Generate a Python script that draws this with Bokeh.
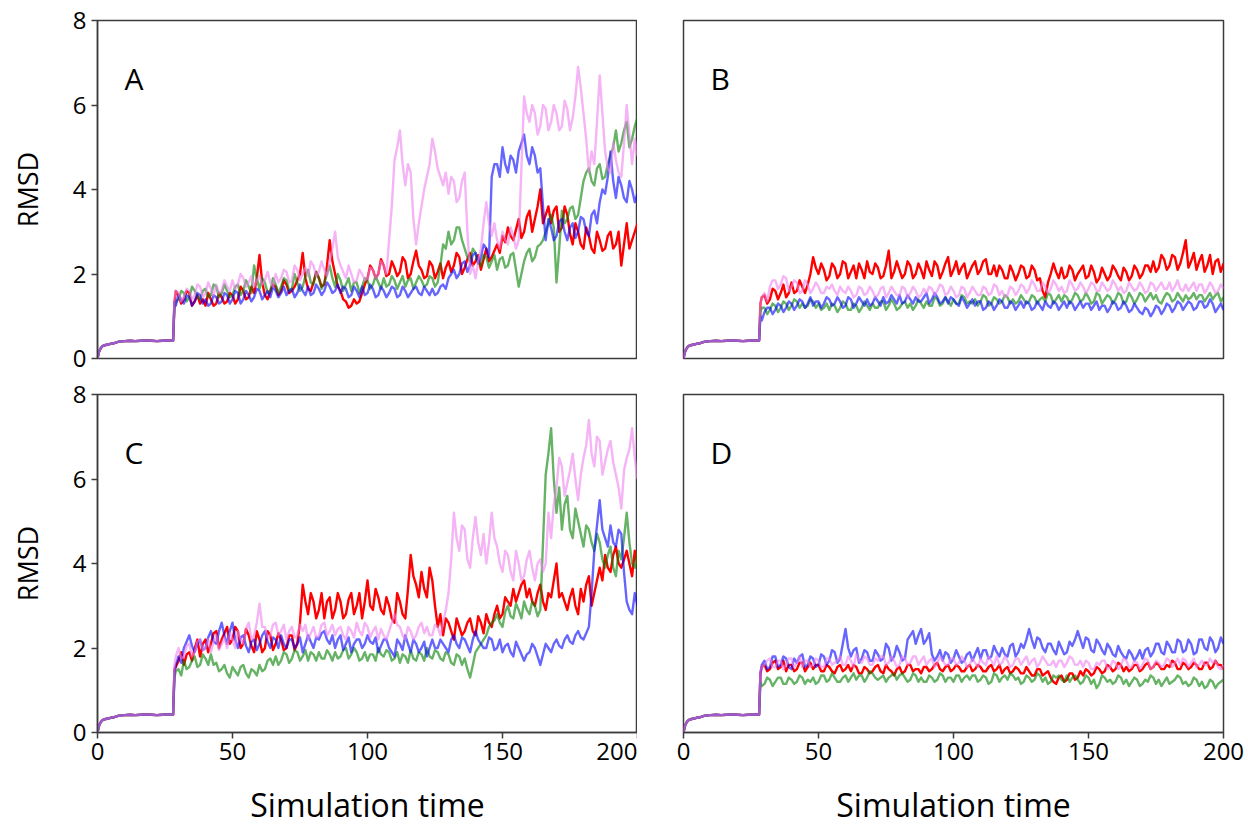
from bokeh.plotting import figure
from bokeh.layouts import column, row
from bokeh.models import Range1d, FixedTicker, Label
from bokeh.embed import file_html
from bokeh.resources import INLINE

FONT = "Open Sans"

X_TICKS = [0, 50, 100, 150, 200]
Y_TICKS = [0, 2, 4, 6, 8]
PANEL_LETTERS = ["A", "B", "C", "D"]

# equilibration segment (shared by all runs)
T_INIT = [0, 0.5, 1, 1.5, 2, 3, 4, 5, 6, 7, 8, 10, 12, 14, 16, 18, 20, 22, 24, 26, 28]
INIT = [0.0, 0.15, 0.22, 0.27, 0.3, 0.32, 0.33, 0.35, 0.36, 0.38, 0.4, 0.41, 0.42, 0.41, 0.42,
        0.43, 0.42, 0.41, 0.42, 0.43, 0.42]
# production segment sampling times: even grid and odd grid
T_MAIN = [28.5] + list(range(30, 201, 2))
T_ODD = list(range(29, 200, 2))

# ---------------- Panel A ----------------
A_RED = [1.3, 1.5, 1.4, 1.55, 1.35, 1.3, 1.25, 1.4, 1.3, 1.45,
         1.35, 1.5, 1.4, 1.6, 1.45, 1.55, 2.45, 1.5, 1.6, 1.7,
         1.6, 1.75, 1.6, 1.85, 2.5, 1.65, 1.8, 1.9, 1.75, 2.8,
         2.0, 1.6, 1.35, 1.25, 1.3, 1.55, 1.9, 2.1, 2.0, 2.2,
         2.0, 2.15, 2.05, 2.3, 2.0, 2.55, 2.1, 1.95, 2.2, 2.05,
         1.9, 2.3, 2.2, 2.4, 2.15, 2.5, 2.3, 2.1, 2.6, 2.4,
         2.7, 2.9, 3.1, 2.8, 3.3, 3.0, 3.5, 3.3, 4.0, 3.4,
         3.2, 3.6, 3.1, 3.4, 2.7, 3.0, 2.6, 2.9, 2.5, 2.8,
         2.6, 3.0, 2.7, 2.2, 3.2, 2.8, 3.2]
A_RED_ODD = [1.6, 1.3, 1.6, 1.25, 1.5, 1.4, 1.55, 1.25, 1.55, 1.3,
             1.55, 1.3, 1.7, 1.4, 1.7, 1.9, 1.8, 1.4, 1.75, 1.5,
             1.85, 1.55, 1.7, 2.0, 1.9, 1.6, 2.05, 1.7, 2.2, 2.3,
             1.7, 1.4, 1.2, 1.4, 1.35, 1.75, 2.2, 1.9, 2.35, 1.95,
             2.3, 1.95, 2.4, 1.9, 2.3, 2.2, 1.9, 2.3, 1.9, 2.25,
             2.15, 2.05, 2.5, 2.0, 2.35, 2.2, 2.45, 2.35, 2.3, 2.55,
             2.5, 2.75, 2.9, 3.05, 2.85, 3.35, 3.0, 3.6, 3.2, 3.6,
             3.5, 3.0, 3.6, 2.95, 3.2, 2.7, 3.1, 2.6, 3.0, 2.55,
             2.9, 2.6, 3.0, 2.7, 2.6, 3.0]
A_GREEN = [1.2, 1.4, 1.55, 1.45, 1.6, 1.4, 1.65, 1.5, 1.7, 1.55,
           1.6, 1.5, 1.75, 1.6, 1.7, 2.2, 1.65, 1.8, 1.6, 1.75,
           1.7, 1.85, 1.65, 1.8, 1.7, 2.1, 1.75, 1.9, 1.8, 2.2,
           1.7, 1.85, 1.75, 1.6, 1.8, 1.7, 1.85, 1.75, 1.8, 1.9,
           1.75, 1.85, 1.8, 1.7, 1.9, 1.8, 1.85, 1.75, 1.9, 1.8,
           2.7, 3.0, 2.8, 3.1, 2.6, 2.3, 2.5, 2.2, 2.4, 2.3,
           2.1, 2.4, 2.2, 2.5, 1.7, 2.3, 2.6, 2.4, 2.7, 3.0,
           3.4, 1.8, 3.5, 3.3, 3.6, 3.4, 4.2, 4.5, 4.1, 4.6,
           4.3, 4.8, 5.4, 5.1, 5.6, 5.2, 5.7]
A_GREEN_ODD = [1.35, 1.6, 1.35, 1.7, 1.45, 1.6, 1.45, 1.75, 1.45, 1.75,
               1.45, 1.7, 1.5, 1.85, 1.55, 1.9, 1.9, 1.55, 1.9, 1.55,
               1.9, 1.6, 2.0, 1.6, 1.95, 1.8, 2.05, 1.65, 2.0, 1.9,
               2.0, 1.6, 1.9, 1.8, 1.55, 1.9, 1.65, 1.95, 1.65, 1.7,
               1.95, 1.65, 1.95, 1.85, 1.65, 1.95, 1.7, 1.95, 1.7, 2.2,
               2.6, 2.7, 3.1, 2.8, 2.4, 2.6, 2.25, 2.45, 2.15, 2.45,
               2.35, 2.15, 2.45, 2.1, 2.0, 2.5, 2.3, 2.65, 2.8, 3.2,
               3.1, 2.6, 3.2, 3.55, 3.3, 3.8, 4.4, 4.2, 4.5, 4.25,
               4.6, 5.0, 4.9, 5.4, 5.0, 5.5]
A_BLUE = [1.35, 1.5, 1.3, 1.45, 1.35, 1.5, 1.4, 1.3, 1.45, 1.35,
          1.5, 1.4, 1.55, 1.4, 1.5, 1.45, 1.6, 1.5, 1.45, 1.6,
          1.55, 1.5, 1.65, 1.55, 1.6, 1.7, 1.55, 1.65, 1.6, 1.7,
          1.6, 1.55, 1.65, 1.5, 1.6, 1.7, 1.55, 1.65, 1.5, 1.6,
          1.55, 1.65, 1.5, 1.6, 1.55, 1.7, 1.5, 1.6, 1.65, 1.55,
          1.75, 1.9, 2.1, 2.0, 2.3, 2.2, 2.5, 2.4, 2.6, 4.3,
          4.6, 5.0, 4.4, 4.7, 4.9, 5.3, 4.6, 4.8, 4.5, 2.8,
          3.1, 2.9, 3.3, 2.8, 3.2, 3.0, 3.3, 2.9, 3.5, 3.7,
          3.9, 4.9, 3.8, 4.1, 3.7, 4.0, 3.9]
A_BLUE_ODD = [1.25, 1.4, 1.5, 1.25, 1.55, 1.3, 1.25, 1.5, 1.3, 1.55,
              1.3, 1.6, 1.3, 1.6, 1.35, 1.65, 1.4, 1.6, 1.7, 1.45,
              1.7, 1.6, 1.45, 1.75, 1.5, 1.5, 1.75, 1.5, 1.8, 1.55,
              1.75, 1.7, 1.45, 1.7, 1.45, 1.5, 1.75, 1.45, 1.7, 1.45,
              1.7, 1.45, 1.7, 1.45, 1.65, 1.55, 1.7, 1.5, 1.5, 1.7,
              1.65, 2.0, 1.9, 2.25, 2.05, 2.45, 2.25, 2.7, 2.4, 4.6,
              4.3, 4.6, 4.8, 4.4, 5.1, 4.8, 5.0, 4.4, 3.6, 3.3,
              2.8, 3.25, 3.0, 3.1, 2.85, 3.35, 3.0, 3.4, 3.2, 4.0,
              4.3, 4.2, 4.3, 3.8, 4.2, 3.7]
A_VIOLET = [1.4, 1.55, 1.45, 1.6, 1.5, 1.7, 1.55, 1.65, 1.75, 1.6,
            1.7, 1.85, 1.75, 1.9, 1.8, 1.7, 1.95, 1.85, 1.8, 2.0,
            1.9, 2.05, 1.85, 2.1, 2.0, 1.95, 2.2, 2.05, 2.1, 2.3,
            3.0, 2.2, 1.9, 2.0, 1.85, 2.0, 1.9, 2.1, 2.0, 2.2,
            2.8, 4.7, 5.4, 4.1, 4.4, 2.7, 3.6, 4.3, 5.2, 4.5,
            4.1, 3.9, 4.2, 3.8, 4.4, 2.0, 1.9, 2.6, 3.7, 2.9,
            2.8, 3.0, 2.7, 2.9, 2.8, 6.2, 5.6, 5.8, 5.5, 5.9,
            5.6, 5.8, 5.5, 5.9, 5.7, 6.9, 5.8, 4.4, 4.6, 6.7,
            4.9, 4.4, 4.7, 4.3, 6.0, 4.6, 4.8]
A_VIOLET_ODD = [1.6, 1.35, 1.65, 1.4, 1.75, 1.45, 1.8, 1.5, 1.55, 1.85,
                1.6, 1.65, 2.0, 1.7, 1.95, 1.85, 1.75, 2.05, 1.7, 1.8,
                2.1, 1.8, 2.2, 1.85, 2.15, 2.3, 1.95, 2.3, 1.95, 2.6,
                2.4, 2.05, 2.2, 1.8, 2.1, 1.85, 2.15, 1.9, 2.3, 2.0,
                3.6, 5.0, 4.6, 4.6, 3.3, 3.2, 4.0, 4.6, 4.9, 4.3,
                4.4, 4.3, 3.7, 4.2, 3.0, 2.2, 2.3, 3.2, 3.2, 3.2,
                2.6, 2.8, 3.1, 2.6, 4.5, 5.8, 6.0, 5.3, 6.0, 5.4,
                6.0, 5.4, 6.1, 5.4, 6.2, 6.4, 5.2, 4.9, 5.6, 5.8,
                4.5, 5.1, 4.4, 5.1, 5.3, 5.2]

# ---------------- Panel B ----------------
B_RED = [1.3, 1.5, 1.4, 1.6, 1.55, 1.45, 1.8, 1.6, 1.7, 1.75,
         2.4, 2.0, 2.1, 1.95, 2.15, 2.0, 2.25, 2.05, 1.9, 2.1,
         2.3, 2.0, 2.15, 1.95, 2.55, 2.05, 2.1, 2.0, 2.2, 2.0,
         2.1, 2.3, 1.95, 2.2, 2.05, 2.4, 2.1, 2.0, 2.25, 2.05,
         2.3, 2.1, 2.35, 2.0, 1.95, 2.1, 1.9, 2.05, 2.0, 2.15,
         1.95, 2.1, 1.9, 1.45, 2.0, 2.05, 2.15, 1.95, 2.1, 2.0,
         2.2, 1.95, 2.05, 1.9, 2.0, 1.95, 2.1, 1.85, 2.05, 1.95,
         2.1, 2.0, 2.2, 2.3, 2.15, 2.35, 2.2, 2.4, 2.25, 2.8,
         2.3, 2.1, 2.45, 2.2, 2.0, 2.35, 2.25]
B_RED_ODD = [1.45, 1.3, 1.65, 1.4, 1.75, 1.55, 1.55, 1.85, 1.55, 2.0,
             2.15, 2.25, 1.85, 2.25, 1.9, 2.3, 1.9, 2.2, 2.25, 1.9,
             2.05, 2.25, 1.9, 2.2, 1.9, 2.3, 1.9, 2.3, 1.9, 2.25,
             1.9, 2.1, 2.3, 1.9, 2.25, 1.95, 2.3, 2.15, 1.9, 2.2,
             2.0, 2.3, 2.0, 2.2, 2.2, 1.9, 2.2, 1.85, 2.2, 1.9,
             2.2, 1.85, 1.6, 1.8, 2.25, 1.9, 1.9, 2.2, 1.85, 2.1,
             1.9, 2.2, 1.8, 2.15, 1.85, 2.2, 1.95, 2.15, 1.85, 2.2,
             1.9, 2.2, 2.05, 2.05, 2.45, 2.1, 2.45, 2.1, 2.5, 2.15,
             2.5, 2.3, 2.05, 2.45, 2.3, 2.05]
B_GREEN = [1.1, 1.2, 1.15, 1.25, 1.2, 1.3, 1.25, 1.35, 1.3, 1.25,
           1.35, 1.3, 1.2, 1.15, 1.25, 1.2, 1.3, 1.15, 1.25, 1.2,
           1.25, 1.3, 1.2, 1.35, 1.25, 1.3, 1.2, 1.35, 1.3, 1.25,
           1.3, 1.35, 1.25, 1.4, 1.3, 1.35, 1.4, 1.3, 1.45, 1.35,
           1.4, 1.35, 1.45, 1.3, 1.4, 1.35, 1.45, 1.4, 1.35, 1.4,
           1.35, 1.45, 1.4, 1.35, 1.5, 1.4, 1.35, 1.45, 1.4, 1.5,
           1.4, 1.45, 1.35, 1.5, 1.4, 1.45, 1.4, 1.5, 1.35, 1.45,
           1.4, 1.5, 1.45, 1.4, 1.35, 1.45, 1.5, 1.4, 1.45, 1.5,
           1.45, 1.4, 1.5, 1.45, 1.4, 1.55, 1.45]
B_GREEN_ODD = [1.2, 1.05, 1.3, 1.1, 1.35, 1.15, 1.4, 1.2, 1.2, 1.4,
               1.2, 1.15, 1.3, 1.3, 1.1, 1.35, 1.15, 1.3, 1.1, 1.35,
               1.15, 1.2, 1.35, 1.15, 1.4, 1.15, 1.3, 1.2, 1.15, 1.4,
               1.2, 1.25, 1.45, 1.25, 1.45, 1.25, 1.3, 1.5, 1.3, 1.3,
               1.25, 1.5, 1.25, 1.45, 1.3, 1.5, 1.3, 1.3, 1.5, 1.3,
               1.5, 1.3, 1.45, 1.55, 1.3, 1.5, 1.5, 1.3, 1.55, 1.35,
               1.55, 1.3, 1.55, 1.3, 1.5, 1.3, 1.55, 1.3, 1.55, 1.3,
               1.55, 1.35, 1.55, 1.5, 1.3, 1.55, 1.35, 1.55, 1.35, 1.4,
               1.55, 1.5, 1.35, 1.55, 1.5, 1.35]
B_BLUE = [1.0, 1.1, 1.2, 1.15, 1.25, 1.2, 1.3, 1.25, 1.35, 1.3,
          1.25, 1.35, 1.3, 1.4, 1.3, 1.35, 1.25, 1.4, 1.3, 1.35,
          1.4, 1.3, 1.35, 1.45, 1.35, 1.4, 1.5, 1.35, 1.4, 1.45,
          1.35, 1.55, 1.4, 1.45, 1.35, 1.3, 1.4, 1.25, 1.35, 1.3,
          1.25, 1.35, 1.2, 1.3, 1.25, 1.35, 1.2, 1.3, 1.25, 1.2,
          1.3, 1.2, 1.25, 1.35, 1.2, 1.3, 1.25, 1.2, 1.3, 1.25,
          1.2, 1.3, 1.25, 1.15, 1.25, 1.2, 1.3, 1.2, 1.25, 1.15,
          1.2, 1.05, 1.15, 1.1, 1.2, 1.15, 1.25, 1.2, 1.3, 1.25,
          1.3, 1.2, 1.35, 1.25, 1.3, 1.2, 1.15]
B_BLUE_ODD = [0.9, 1.2, 1.05, 1.3, 1.1, 1.35, 1.15, 1.4, 1.2, 1.45,
              1.35, 1.2, 1.45, 1.25, 1.45, 1.2, 1.45, 1.2, 1.45, 1.25,
              1.25, 1.45, 1.25, 1.3, 1.5, 1.3, 1.3, 1.5, 1.3, 1.35,
              1.45, 1.3, 1.55, 1.3, 1.45, 1.45, 1.3, 1.45, 1.2, 1.4,
              1.35, 1.15, 1.35, 1.15, 1.4, 1.2, 1.35, 1.15, 1.35, 1.35,
              1.15, 1.35, 1.15, 1.25, 1.35, 1.15, 1.35, 1.35, 1.15, 1.35,
              1.3, 1.15, 1.35, 1.25, 1.1, 1.35, 1.15, 1.35, 1.1, 1.3,
              1.1, 1.2, 1.0, 1.25, 1.05, 1.3, 1.1, 1.35, 1.15, 1.35,
              1.15, 1.35, 1.2, 1.4, 1.1, 1.3]
B_VIOLET = [1.3, 1.55, 1.7, 1.85, 1.75, 1.9, 1.7, 1.8, 1.6, 1.75,
            1.65, 1.7, 1.55, 1.65, 1.6, 1.7, 1.55, 1.6, 1.5, 1.65,
            1.55, 1.6, 1.5, 1.7, 1.55, 1.6, 1.5, 1.65, 1.55, 1.6,
            1.5, 1.55, 1.65, 1.6, 1.7, 1.55, 1.6, 1.5, 1.65, 1.55,
            1.6, 1.5, 1.65, 1.55, 1.7, 1.6, 1.5, 1.65, 1.6, 1.7,
            1.65, 1.75, 1.6, 1.7, 1.65, 1.75, 1.7, 1.6, 1.75, 1.65,
            1.7, 1.65, 1.75, 1.6, 1.7, 1.65, 1.75, 1.7, 1.6, 1.7,
            1.65, 1.7, 1.6, 1.75, 1.7, 1.65, 1.8, 1.7, 1.65, 1.75,
            1.7, 1.6, 1.75, 1.65, 1.7, 1.6, 1.65]
B_VIOLET_ODD = [1.45, 1.35, 1.85, 1.65, 1.95, 1.6, 1.85, 1.55, 1.85, 1.55,
                1.8, 1.55, 1.7, 1.75, 1.5, 1.6, 1.7, 1.45, 1.7, 1.5,
                1.7, 1.45, 1.65, 1.45, 1.7, 1.5, 1.7, 1.45, 1.7, 1.45,
                1.65, 1.7, 1.5, 1.75, 1.5, 1.7, 1.45, 1.7, 1.45, 1.7,
                1.5, 1.7, 1.5, 1.75, 1.5, 1.45, 1.7, 1.5, 1.75, 1.55,
                1.85, 1.6, 1.8, 1.55, 1.85, 1.6, 1.55, 1.85, 1.6, 1.8,
                1.55, 1.8, 1.6, 1.8, 1.6, 1.85, 1.6, 1.55, 1.8, 1.6,
                1.8, 1.55, 1.8, 1.6, 1.8, 1.65, 1.6, 1.85, 1.6, 1.6,
                1.8, 1.75, 1.55, 1.8, 1.55, 1.75]

# ---------------- Panel C ----------------
C_RED = [1.5, 1.7, 1.6, 1.9, 2.0, 1.8, 2.2, 2.1, 2.4, 2.2,
         2.5, 2.2, 2.4, 2.1, 2.3, 1.9, 2.2, 2.0, 2.3, 2.1,
         2.2, 2.0, 2.3, 2.1, 3.5, 2.8, 3.1, 2.9, 2.7, 3.2,
         2.9, 3.1, 2.8, 3.3, 3.0, 2.7, 3.6, 2.9, 3.2, 2.8,
         3.0, 2.6, 3.1, 2.7, 4.2, 3.5, 3.8, 3.2, 3.6, 2.5,
         2.3, 2.6, 2.2, 2.5, 2.4, 2.7, 2.3, 2.6, 2.8, 2.5,
         3.0, 2.8, 3.1, 3.4, 3.3, 3.6, 3.4, 3.0, 3.5, 2.9,
         3.2, 4.0, 3.3, 2.9, 3.4, 2.8, 3.1, 3.7, 3.3, 3.9,
         4.2, 3.8, 4.4, 3.9, 4.3, 3.7, 4.0]
C_RED_ODD = [1.55, 1.9, 1.85, 1.7, 2.2, 2.1, 1.9, 2.35, 2.0, 2.35,
             2.1, 2.5, 2.0, 2.45, 2.05, 2.4, 1.9, 2.4, 1.95, 2.35,
             1.95, 2.3, 1.95, 2.6, 3.1, 3.3, 2.7, 3.3, 3.1, 2.7,
             3.3, 2.7, 3.15, 2.8, 3.3, 3.1, 3.0, 3.4, 2.9, 3.2,
             2.7, 3.3, 2.8, 3.4, 3.7, 3.2, 3.4, 3.9, 3.0, 2.8,
             2.7, 2.4, 2.7, 2.3, 2.6, 2.4, 2.75, 2.35, 2.6, 2.8,
             2.7, 3.2, 3.0, 3.1, 3.5, 3.2, 3.1, 3.3, 3.1, 3.3,
             3.6, 3.2, 3.1, 3.2, 3.0, 3.4, 3.5, 3.0, 3.6, 3.6,
             3.9, 4.2, 4.0, 4.1, 4.0, 4.3]
C_GREEN = [1.3, 1.5, 1.7, 1.55, 1.8, 1.6, 1.75, 1.85, 1.65, 1.5,
           1.4, 1.55, 1.35, 1.6, 1.3, 1.45, 1.6, 1.5, 1.75, 1.8,
           1.7, 1.85, 1.75, 1.9, 1.8, 1.7, 1.85, 1.9, 1.75, 1.85,
           1.9, 1.8, 2.0, 1.85, 1.9, 1.75, 1.7, 1.85, 2.0, 1.8,
           1.9, 1.75, 1.65, 1.8, 1.95, 1.7, 1.85, 2.0, 1.75, 1.9,
           1.7, 1.85, 1.6, 1.8, 1.75, 1.3, 1.9, 2.1, 2.3, 2.6,
           2.8, 2.5, 3.0, 2.7, 2.9, 3.1, 2.8, 3.0, 2.9, 6.1,
           7.2, 5.2, 4.8, 5.6, 4.6, 5.0, 4.4, 4.8, 4.3, 4.5,
           3.9, 4.4, 3.7, 4.1, 5.2, 4.0, 4.3]
C_GREEN_ODD = [1.45, 1.35, 1.5, 1.7, 1.55, 1.85, 1.6, 1.6, 1.45, 1.6,
               1.3, 1.45, 1.55, 1.4, 1.5, 1.35, 1.45, 1.7, 1.6, 1.6,
               1.9, 1.65, 1.95, 1.7, 1.95, 1.9, 1.7, 1.75, 1.95, 1.7,
               1.75, 1.95, 1.75, 2.0, 1.7, 1.9, 1.85, 1.7, 1.85, 1.95,
               1.7, 1.9, 1.85, 1.65, 1.75, 1.9, 1.7, 1.8, 1.95, 1.75,
               1.9, 1.65, 1.85, 1.6, 1.5, 1.6, 2.0, 2.2, 2.5, 2.65,
               2.6, 2.85, 2.75, 3.05, 2.7, 2.9, 3.1, 2.75, 4.5, 6.6,
               6.0, 5.8, 5.4, 4.8, 5.3, 4.7, 4.9, 4.5, 4.7, 4.1,
               4.2, 3.9, 4.3, 4.6, 4.5, 3.9]
C_BLUE = [1.4, 1.8, 2.0, 2.3, 1.9, 2.2, 2.0, 2.4, 2.1, 2.6,
          2.1, 2.6, 2.0, 2.3, 1.9, 2.2, 2.1, 2.4, 2.0, 2.2,
          2.3, 2.0, 2.2, 2.1, 1.9, 2.3, 2.0, 2.2, 2.4, 2.1,
          2.0, 2.3, 2.1, 1.9, 2.2, 2.0, 2.3, 2.1, 1.9, 2.2,
          2.0, 1.8, 2.1, 2.3, 1.9, 2.1, 2.0, 1.8, 2.2, 2.0,
          2.1, 1.9, 2.3, 2.0, 2.2, 1.9, 2.4, 2.1, 2.0, 2.2,
          2.0, 1.9, 2.1, 1.8, 2.0, 1.7, 1.9, 2.0, 1.6, 2.1,
          1.9, 2.2, 2.0, 2.3, 2.1, 2.4, 2.2, 2.5, 4.3, 5.5,
          4.6, 4.9, 4.4, 4.7, 3.1, 2.8, 3.0]
C_BLUE_ODD = [1.6, 1.65, 2.15, 2.05, 2.1, 1.95, 2.25, 2.15, 2.4, 2.3,
              2.4, 2.2, 2.25, 2.05, 2.15, 1.95, 2.3, 2.15, 2.25, 2.0,
              2.1, 2.2, 2.0, 2.25, 2.1, 2.15, 2.25, 2.35, 2.2, 2.3,
              2.2, 1.95, 2.25, 2.1, 2.2, 2.1, 2.15, 2.25, 2.05, 2.2,
              1.9, 2.2, 1.95, 2.1, 2.2, 1.9, 2.15, 2.0, 2.0, 2.2,
              2.0, 2.2, 2.1, 2.25, 2.05, 2.2, 2.2, 2.0, 2.25, 1.95,
              2.2, 2.05, 1.9, 2.15, 1.85, 1.85, 2.1, 1.8, 1.85, 2.0,
              2.1, 2.05, 2.2, 2.15, 2.3, 2.25, 2.35, 3.3, 4.9, 4.8,
              4.4, 4.5, 4.8, 3.8, 2.9, 3.3]
C_VIOLET = [1.6, 2.0, 1.8, 2.1, 1.9, 2.2, 2.0, 1.9, 2.3, 2.1,
            2.0, 2.2, 2.4, 2.1, 2.6, 2.3, 3.05, 2.5, 2.3, 2.6,
            2.4, 2.2, 2.5, 2.3, 2.4, 2.2, 2.5, 2.3, 2.6, 2.4,
            2.3, 2.5, 2.2, 2.4, 2.6, 2.3, 2.5, 2.4, 2.2, 2.3,
            2.4, 2.8, 2.5, 2.2, 2.4, 2.3, 2.6, 2.5, 2.3, 2.5,
            2.6, 3.3, 5.2, 4.3, 4.8, 3.9, 5.1, 4.2, 4.0, 5.2,
            4.4, 3.8, 4.2, 3.6, 4.0, 3.7, 4.3, 3.6, 4.1, 4.0,
            4.6, 5.8, 6.3, 5.9, 6.6, 5.5, 6.5, 7.4, 6.3, 6.9,
            6.4, 6.9, 6.1, 5.3, 6.5, 7.2, 6.0]
C_VIOLET_ODD = [1.8, 1.75, 2.05, 1.8, 2.15, 1.95, 2.2, 2.15, 1.95, 2.25,
                2.35, 2.0, 2.2, 2.45, 2.2, 2.6, 2.5, 2.25, 2.55, 2.3,
                2.55, 2.4, 2.25, 2.55, 2.55, 2.35, 2.25, 2.55, 2.3, 2.55,
                2.45, 2.3, 2.5, 2.25, 2.4, 2.6, 2.25, 2.5, 2.45, 2.2,
                2.6, 2.55, 2.3, 2.5, 2.2, 2.5, 2.35, 2.3, 2.55, 2.3,
                2.9, 4.1, 4.6, 4.9, 4.1, 4.6, 4.5, 4.7, 4.5, 4.6,
                4.0, 4.3, 3.8, 4.3, 3.6, 4.1, 3.9, 4.0, 3.8, 5.2,
                5.4, 6.5, 5.6, 6.2, 6.0, 6.1, 6.8, 6.6, 7.0, 6.1,
                6.7, 6.4, 5.8, 6.2, 6.7, 6.5]

# ---------------- Panel D ----------------
D_RED = [1.4, 1.6, 1.5, 1.7, 1.55, 1.45, 1.6, 1.5, 1.65, 1.55,
         1.5, 1.6, 1.45, 1.55, 1.4, 1.6, 1.5, 1.45, 1.55, 1.4,
         1.5, 1.45, 1.6, 1.4, 1.5, 1.35, 1.55, 1.45, 1.6, 1.5,
         1.4, 1.55, 1.5, 1.65, 1.45, 1.6, 1.5, 1.55, 1.45, 1.6,
         1.5, 1.55, 1.45, 1.6, 1.5, 1.4, 1.55, 1.45, 1.5, 1.4,
         1.45, 1.35, 1.5, 1.4, 1.3, 1.15, 1.35, 1.25, 1.4, 1.3,
         1.35, 1.45, 1.4, 1.5, 1.45, 1.55, 1.5, 1.6, 1.55, 1.5,
         1.6, 1.5, 1.65, 1.55, 1.6, 1.5, 1.55, 1.65, 1.5, 1.6,
         1.55, 1.6, 1.5, 1.65, 1.55, 1.6, 1.5]
D_RED_ODD = [1.55, 1.45, 1.65, 1.5, 1.7, 1.6, 1.45, 1.65, 1.45, 1.65,
             1.6, 1.45, 1.6, 1.45, 1.55, 1.45, 1.6, 1.6, 1.4, 1.55,
             1.4, 1.55, 1.45, 1.6, 1.45, 1.5, 1.4, 1.6, 1.45, 1.5,
             1.55, 1.45, 1.6, 1.5, 1.55, 1.45, 1.6, 1.45, 1.55, 1.45,
             1.6, 1.45, 1.55, 1.45, 1.6, 1.5, 1.4, 1.55, 1.4, 1.55,
             1.35, 1.5, 1.35, 1.45, 1.2, 1.3, 1.2, 1.4, 1.25, 1.45,
             1.5, 1.35, 1.55, 1.4, 1.6, 1.45, 1.65, 1.45, 1.45, 1.6,
             1.45, 1.6, 1.5, 1.65, 1.5, 1.6, 1.7, 1.5, 1.65, 1.5,
             1.65, 1.5, 1.65, 1.5, 1.7, 1.6]
D_GREEN = [1.2, 1.15, 1.25, 1.2, 1.3, 1.15, 1.25, 1.2, 1.3, 1.25,
           1.3, 1.2, 1.35, 1.25, 1.3, 1.2, 1.35, 1.3, 1.25, 1.35,
           1.3, 1.4, 1.25, 1.35, 1.3, 1.4, 1.35, 1.3, 1.25, 1.35,
           1.3, 1.2, 1.3, 1.25, 1.35, 1.3, 1.2, 1.35, 1.3, 1.25,
           1.35, 1.25, 1.3, 1.2, 1.35, 1.3, 1.25, 1.35, 1.3, 1.2,
           1.3, 1.25, 1.35, 1.3, 1.2, 1.3, 1.25, 1.35, 1.3, 1.25,
           1.2, 1.3, 1.25, 1.15, 1.3, 1.25, 1.2, 1.3, 1.25, 1.2,
           1.25, 1.15, 1.2, 1.3, 1.25, 1.2, 1.15, 1.25, 1.3, 1.2,
           1.15, 1.25, 1.2, 1.1, 1.2, 1.15, 1.25]
D_GREEN_ODD = [1.1, 1.3, 1.1, 1.3, 1.15, 1.3, 1.15, 1.35, 1.15, 1.2,
               1.15, 1.35, 1.2, 1.4, 1.2, 1.3, 1.2, 1.4, 1.35, 1.2,
               1.45, 1.3, 1.3, 1.2, 1.35, 1.25, 1.4, 1.2, 1.4, 1.2,
               1.2, 1.35, 1.2, 1.4, 1.2, 1.3, 1.35, 1.2, 1.35, 1.35,
               1.2, 1.35, 1.15, 1.4, 1.2, 1.35, 1.4, 1.25, 1.15, 1.35,
               1.2, 1.4, 1.2, 1.15, 1.35, 1.35, 1.2, 1.2, 1.35, 1.15,
               1.35, 1.15, 1.05, 1.35, 1.2, 1.15, 1.35, 1.15, 1.1, 1.3,
               1.1, 1.25, 1.35, 1.15, 1.1, 1.3, 1.2, 1.35, 1.15, 1.1,
               1.3, 1.1, 1.05, 1.25, 1.05, 1.2]
D_BLUE = [1.4, 1.7, 1.55, 1.8, 1.6, 1.75, 1.5, 1.65, 1.85, 1.6,
          1.75, 1.6, 1.8, 1.7, 1.9, 1.75, 2.45, 1.8, 2.0, 1.75,
          1.9, 1.7, 1.85, 1.75, 2.0, 1.8, 1.9, 1.75, 2.3, 2.1,
          2.45, 2.2, 1.85, 1.8, 1.7, 1.85, 1.75, 1.8, 1.7, 1.9,
          1.85, 1.75, 1.95, 1.8, 1.9, 2.0, 1.8, 2.1, 1.9, 2.0,
          2.45, 2.0, 2.2, 1.9, 2.1, 1.85, 2.0, 1.9, 2.05, 2.4,
          2.0, 2.2, 1.9, 2.1, 1.85, 2.0, 1.8, 1.9, 1.75, 1.85,
          1.8, 1.75, 2.0, 1.9, 2.1, 1.85, 2.05, 1.9, 2.15, 1.95,
          2.1, 1.9, 2.2, 1.95, 2.15, 2.0, 2.1]
D_BLUE_ODD = [1.6, 1.5, 1.8, 1.55, 1.8, 1.55, 1.75, 1.8, 1.55, 1.8,
              1.55, 1.85, 1.6, 1.95, 1.65, 2.1, 2.0, 1.95, 1.65, 1.95,
              1.7, 1.95, 1.7, 2.1, 1.7, 2.05, 1.7, 2.2, 2.4, 2.3,
              2.1, 2.35, 1.7, 1.95, 1.9, 1.65, 1.95, 1.65, 1.85, 1.7,
              2.0, 1.95, 1.75, 2.05, 1.8, 1.85, 2.05, 1.8, 2.1, 2.2,
              2.2, 2.25, 2.0, 2.1, 1.95, 2.15, 1.85, 2.15, 2.2, 2.2,
              2.25, 1.95, 2.2, 1.95, 2.1, 1.85, 2.05, 1.8, 1.95, 1.7,
              1.95, 1.95, 1.8, 2.1, 1.9, 2.15, 1.9, 2.2, 1.9, 2.2,
              1.85, 2.2, 2.0, 2.25, 1.9, 2.25]
D_VIOLET = [1.45, 1.6, 1.75, 1.55, 1.7, 1.6, 1.75, 1.65, 1.55, 1.7,
            1.6, 1.7, 1.55, 1.75, 1.65, 1.8, 1.6, 1.7, 1.85, 1.65,
            1.75, 1.6, 1.7, 1.8, 1.65, 1.7, 1.6, 1.75, 1.65, 1.8,
            1.7, 1.6, 1.75, 1.65, 1.7, 1.6, 1.75, 1.65, 1.7, 1.6,
            1.65, 1.75, 1.6, 1.7, 1.8, 1.65, 1.7, 1.6, 1.75, 1.7,
            1.6, 1.75, 1.65, 1.7, 1.6, 1.55, 1.7, 1.65, 1.75, 1.6,
            1.55, 1.65, 1.5, 1.6, 1.7, 1.55, 1.65, 1.6, 1.7, 1.55,
            1.65, 1.6, 1.7, 1.55, 1.65, 1.6, 1.7, 1.65, 1.6, 1.7,
            1.65, 1.55, 1.7, 1.6, 1.65, 1.55, 1.6]
D_VIOLET_ODD = [1.55, 1.7, 1.55, 1.7, 1.5, 1.75, 1.55, 1.8, 1.7, 1.55,
                1.75, 1.55, 1.75, 1.6, 1.7, 1.6, 1.8, 1.55, 1.7, 1.8,
                1.6, 1.75, 1.8, 1.6, 1.8, 1.55, 1.8, 1.6, 1.8, 1.6,
                1.8, 1.7, 1.55, 1.8, 1.6, 1.75, 1.6, 1.8, 1.55, 1.75,
                1.55, 1.65, 1.8, 1.6, 1.6, 1.8, 1.55, 1.75, 1.6, 1.8,
                1.7, 1.55, 1.8, 1.6, 1.7, 1.7, 1.55, 1.8, 1.6, 1.7,
                1.7, 1.5, 1.65, 1.7, 1.5, 1.7, 1.5, 1.75, 1.55, 1.7,
                1.5, 1.75, 1.5, 1.7, 1.55, 1.75, 1.55, 1.75, 1.75, 1.55,
                1.75, 1.6, 1.6, 1.75, 1.7, 1.5]

SERIES_STYLE = [("red", 1.0), ("green", 0.6), ("blue", 0.6), ("violet", 0.6)]
FRAME_COLOR = "#3c3c3c"


def merge(even_vals, odd_vals):
    pts = list(zip(T_MAIN, even_vals)) + list(zip(T_ODD, odd_vals))
    pts.sort(key=lambda q: q[0])
    ts = T_INIT + [q[0] for q in pts]
    ys = INIT + [q[1] for q in pts]
    return ts, ys


def make_panel(letter, series, show_x, show_y, borders):
    left, right, top, bottom = borders
    p = figure(frame_width=540, frame_height=338,
               x_range=Range1d(0, 200), y_range=Range1d(0, 8),
               output_backend="svg", toolbar_location=None,
               min_border_left=left, min_border_right=right,
               min_border_top=top, min_border_bottom=bottom,
               background_fill_color="white", border_fill_color="white")
    p.xgrid.visible = False
    p.ygrid.visible = False
    p.outline_line_color = FRAME_COLOR
    p.outline_line_width = 1.5
    p.outline_line_alpha = 1.0

    for (color, alpha), (even_vals, odd_vals) in zip(SERIES_STYLE, series):
        ts, ys = merge(even_vals, odd_vals)
        p.line(ts, ys, line_color=color, line_alpha=alpha,
               line_width=2.4, line_join="round")

    for ax, ticks in ((p.xaxis, X_TICKS), (p.yaxis, Y_TICKS)):
        ax.ticker = FixedTicker(ticks=ticks)
        ax.axis_line_color = FRAME_COLOR
        ax.axis_line_width = 1.5
        ax.major_tick_line_color = FRAME_COLOR
        ax.major_tick_line_width = 1.5
        ax.major_tick_out = 6
        ax.major_tick_in = 0
        ax.minor_tick_out = 0
        ax.minor_tick_in = 0
        ax.major_label_text_font = FONT
        ax.major_label_text_font_size = "24px"
        ax.major_label_text_color = "black"
        ax.axis_label_text_font = FONT
        ax.axis_label_text_font_style = "normal"
        ax.axis_label_text_color = "black"

    if show_x:
        p.xaxis.axis_label = "Simulation time"
        p.xaxis.axis_label_text_font_size = "32px"
        p.xaxis.axis_label_standoff = 20
        p.xaxis.major_label_standoff = 4
    else:
        p.xaxis.visible = False
    if show_y:
        p.yaxis.axis_label = "RMSD"
        p.yaxis.axis_label_text_font_size = "27px"
        p.yaxis.axis_label_standoff = 24
        p.yaxis.major_label_standoff = 5
    else:
        p.yaxis.visible = False

    p.add_layout(Label(x=10, y=6.62, text=letter, text_font=FONT,
                       text_font_size="30px", text_color="black",
                       text_baseline="middle", text_align="left"))
    return p


pa = make_panel(PANEL_LETTERS[0],
                [(A_RED, A_RED_ODD), (A_GREEN, A_GREEN_ODD), (A_BLUE, A_BLUE_ODD), (A_VIOLET, A_VIOLET_ODD)],
                False, True, (97, 0, 20, 18))
pb = make_panel(PANEL_LETTERS[1],
                [(B_RED, B_RED_ODD), (B_GREEN, B_GREEN_ODD), (B_BLUE, B_BLUE_ODD), (B_VIOLET, B_VIOLET_ODD)],
                False, False, (46, 25, 20, 18))
pc = make_panel(PANEL_LETTERS[2],
                [(C_RED, C_RED_ODD), (C_GREEN, C_GREEN_ODD), (C_BLUE, C_BLUE_ODD), (C_VIOLET, C_VIOLET_ODD)],
                True, True, (97, 0, 18, 90))
pd = make_panel(PANEL_LETTERS[3],
                [(D_RED, D_RED_ODD), (D_GREEN, D_GREEN_ODD), (D_BLUE, D_BLUE_ODD), (D_VIOLET, D_VIOLET_ODD)],
                True, False, (46, 25, 18, 90))

layout = column(row(pa, pb), row(pc, pd))

open("out.html", "w").write(file_html(layout, INLINE))
